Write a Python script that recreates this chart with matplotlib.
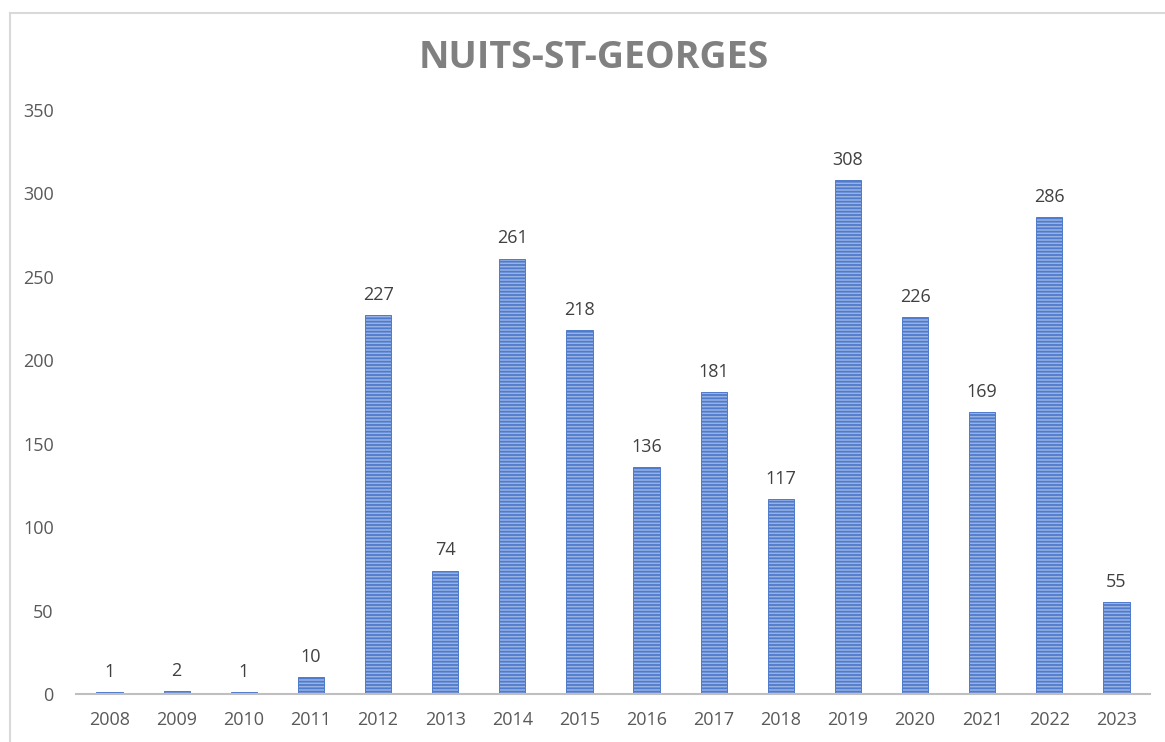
import matplotlib
matplotlib.use("Agg")
import matplotlib.pyplot as plt
from matplotlib.lines import Line2D

years = ["2008", "2009", "2010", "2011", "2012", "2013", "2014", "2015",
         "2016", "2017", "2018", "2019", "2020", "2021", "2022", "2023"]
values = [1, 2, 1, 10, 227, 74, 261, 218, 136, 181, 117, 308, 226, 169, 286, 55]
yticks = [0, 50, 100, 150, 200, 250, 300, 350]
title = "NUITS-ST-GEORGES"

plt.rcParams['font.family'] = ['Open Sans', 'DejaVu Sans']
plt.rcParams['hatch.color'] = '#3f6cc0'
plt.rcParams['hatch.linewidth'] = 1.3

fig = plt.figure(figsize=(11.65, 7.42), dpi=100)
ax = fig.add_axes([76/1165, 1 - 694/742, (1150-76)/1165, (694-110)/742])

x = list(range(len(years)))
bars = ax.bar(x, values, width=0.39, color='#98b2e4', edgecolor='#4f7bcc',
              linewidth=0.7, hatch='-----')

for xi, v in zip(x, values):
    ax.annotate(str(v), (xi, v), xytext=(0, 8), textcoords='offset points',
                ha='center', va='bottom', fontsize=13, color='#404040')

ax.set_xlim(-0.5, len(years) - 0.5)
ax.set_ylim(0, 350)
ax.set_yticks(yticks)
ax.set_yticklabels([str(t) for t in yticks], fontsize=13, color='#595959')
ax.set_xticks(x)
ax.set_xticklabels(years, fontsize=13, color='#595959')
ax.tick_params(axis='x', length=0, pad=12)
ax.tick_params(axis='y', length=0, pad=16)
for s in ['top', 'right', 'left']:
    ax.spines[s].set_visible(False)
ax.spines['bottom'].set_color('#bfbfbf')
ax.spines['bottom'].set_linewidth(1.5)

fig.text(594/1165, 1 - 58/742, title, ha='center', va='center',
         fontsize=27, fontweight='bold', color='#808080')

# chart frame (left and top edges visible)
fig.add_artist(Line2D([10/1165, 10/1165], [0, 1 - 13/742], transform=fig.transFigure,
                      color='#d9d9d9', linewidth=1.5))
fig.add_artist(Line2D([10/1165, 1], [1 - 13/742, 1 - 13/742], transform=fig.transFigure,
                      color='#d9d9d9', linewidth=1.5))

fig.savefig("out.png", dpi=100)
